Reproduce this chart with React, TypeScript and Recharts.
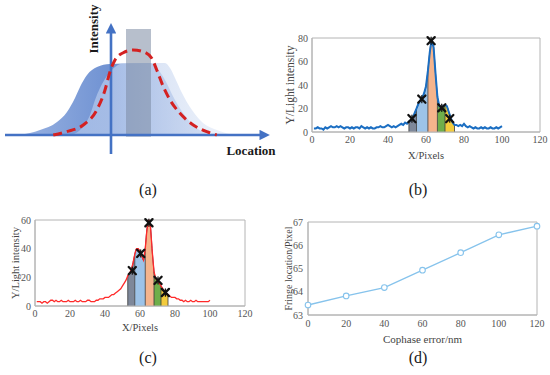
import React from 'react';
import {
  ComposedChart,
  Line,
  Area,
  Scatter,
  XAxis,
  YAxis,
  ReferenceArea,
  ReferenceLine,
} from 'recharts';

const SERIF = '"Liberation Serif", "Times New Roman", Times, serif';

// ---------- Panel (a) schematic ----------
const aRedU = [-2.31, -1.77, -1.11, -0.57, -0.24, -0.04, 0.16, 0.49, 0.89, 1.29, 1.63, 1.83, 2.09, 2.36, 2.76, 3.29, 3.83, 4.23];
const aRedV = [0, 0.04, 0.118, 0.294, 0.529, 0.745, 0.882, 0.968, 1.0, 0.98, 0.902, 0.765, 0.569, 0.412, 0.255, 0.118, 0.039, 0];
const aLeftU = [-3.64, -2.84, -2.16, -1.76, -1.44, -1.24, -0.96, -0.56, -0.04, 1.56, 1.76, 2.16, 2.56, 3.16, 3.76, 4.16];
const aLeftV = [0, 0.059, 0.153, 0.271, 0.435, 0.565, 0.706, 0.8, 0.835, 0.847, 0.812, 0.647, 0.412, 0.153, 0.024, 0];
const aRightU = [-1.56, -1.16, -0.84, -0.64, -0.44, -0.16, 0.16, 0.56, 2.16, 2.36, 2.56, 2.84, 3.24, 3.68, 4.24, 4.88];
const aRightV = [0, 0.082, 0.235, 0.412, 0.553, 0.694, 0.8, 0.847, 0.847, 0.788, 0.671, 0.494, 0.294, 0.141, 0.059, 0];
const aWindow = { u1: 0.6, u2: 1.6, v1: -0.02, v2: 1.247 };
const aAxisH = { u1: -4.24, u2: 5.96 };
const aAxisV = { v1: -0.224, v2: 1.2 };

// ---------- Panel (b) ----------
const bY = [
  3, 3, 4, 3, 3, 2, 4, 3, 4, 5,
  4, 4, 5, 4, 5, 4, 3, 4, 4, 3,
  4, 3, 4, 4, 3, 5, 4, 3, 4, 3,
  4, 3, 3, 4, 4, 5, 4, 4, 5, 6,
  5, 4, 5, 4, 5, 6, 7, 6, 8, 7,
  9, 10, 12, 16, 20, 24, 27, 29, 33, 39,
  52, 68, 79, 72, 50, 30, 22, 21, 22, 23,
  22, 17, 12, 8, 6, 6, 5, 6, 5, 7,
  5, 4, 5, 4, 3, 4, 3, 3, 4, 3,
  4, 3, 3, 4, 3, 3, 4, 3, 4, 5,
];
const bBounds = [51, 55, 61, 66, 70, 75];
const bMarkX = [52.6, 57.8, 62.7, 68.3, 72.5];
const bMarkY = [11.4, 28, 77.7, 20.6, 11.4];

// ---------- Panel (c) ----------
const cY = [
  3, 3, 3, 2, 3, 3, 2, 3, 4, 4,
  3, 4, 3, 3, 4, 3, 3, 3, 4, 3,
  3, 3, 4, 3, 3, 4, 3, 3, 3, 4,
  4, 3, 3, 3, 4, 4, 5, 5, 5, 6,
  6, 6, 7, 8, 8, 9, 10, 11, 12, 14,
  16, 18, 21, 23, 25, 30, 36, 40, 40, 38,
  35, 32, 40, 54, 60, 55, 38, 24, 19, 18,
  16, 14, 12, 10, 9, 8, 7, 6, 6, 6,
  5, 5, 4, 4, 3, 4, 3, 3, 4, 3,
  3, 4, 3, 3, 3, 3, 3, 3, 3, 4,
];
const cBounds = [53, 57, 63, 68, 72, 76];
const cMarkX = [55.6, 60.4, 65.1, 70.3, 74.5];
const cMarkY = [24.7, 36.7, 58.1, 17.9, 9.4];

// ---------- Panel (d) ----------
const dX = [0, 20, 40, 60, 80, 100, 120];
const dY = [63.43, 63.82, 64.18, 64.93, 65.68, 66.45, 66.82];

const regionColors = ['#7e889a', '#9dc3e8', '#f5b48c', '#6fae4a', '#f3cb3c'];
const pixTicks = [0, 20, 40, 60, 80, 100, 120];

const zip = (xs: number[], ys: number[]) => xs.map((x, i) => ({ x, y: ys[i] }));

function buildProfile(ys: number[], bounds: number[]) {
  return ys.map((y, i) => {
    const x = i + 1;
    const row: any = { x, y };
    for (let r = 0; r < bounds.length - 1; r++) {
      row['r' + r] = x >= bounds[r] && x <= bounds[r + 1] ? y : null;
    }
    return row;
  });
}

const XMark = (props: any) => {
  const { cx, cy } = props;
  const s = 3.6;
  return (
    <g stroke="#111" strokeWidth={2.3} strokeLinecap="round">
      <line x1={cx - s} y1={cy - s} x2={cx + s} y2={cy + s} />
      <line x1={cx - s} y1={cy + s} x2={cx + s} y2={cy - s} />
      <line x1={cx} y1={cy - s} x2={cx} y2={cy + s} strokeWidth={1.2} />
    </g>
  );
};

const SerifTick = (props: any) => {
  const { x, y, payload, textAnchor, verticalAnchor } = props;
  const dy = verticalAnchor === 'start' ? '0.72em' : verticalAnchor === 'end' ? '0' : '0.35em';
  return (
    <text x={x} y={y} dy={dy} textAnchor={textAnchor} fontFamily={SERIF} fontSize={10} fill="#555">
      {payload.value}
    </text>
  );
};

const Txt = ({ x, y, children, size = 15, bold = false, rotate = 0 }: any) => (
  <div
    style={{
      position: 'absolute',
      left: x,
      top: y,
      transform: `translate(-50%, -50%) rotate(${rotate}deg)`,
      fontFamily: SERIF,
      fontSize: size,
      fontWeight: bold ? 'bold' : 'normal',
      color: '#1a1a1a',
      whiteSpace: 'nowrap',
      lineHeight: 1,
    }}
  >
    {children}
  </div>
);

const AXIS_COLOR = '#b4b4b4';
const labelStyle = (size: number) => ({ fontSize: size, fill: '#444', fontFamily: SERIF, textAnchor: 'middle' as const });
const CHART_STYLE = { fontFamily: SERIF, overflow: 'visible' as const };

function ProfileChart({
  ys, bounds, markX, markY, yMax, yTicks, lineColor, lineWidth, outline,
  width, height, margin, yAxisWidth, xAxisHeight, xLabelOffset, yLabelOffset, tickMarginX, tickMarginY,
  xLabelSize, yLabelSize,
}: any) {
  const data = buildProfile(ys, bounds);
  const marks = zip(markX, markY);
  return (
    <ComposedChart width={width} height={height} data={data} margin={margin} style={CHART_STYLE}>
      <XAxis
        dataKey="x"
        type="number"
        domain={[0, 120]}
        ticks={pixTicks}
        interval={0}
        tickSize={0}
        tickMargin={tickMarginX}
        height={xAxisHeight}
        stroke={AXIS_COLOR}
        tick={<SerifTick />}
        label={{ value: 'X/Pixels', position: 'insideBottom', offset: xLabelOffset, style: labelStyle(xLabelSize) }}
      />
      <YAxis
        type="number"
        domain={[0, yMax]}
        ticks={yTicks}
        interval={0}
        tickSize={0}
        tickMargin={tickMarginY}
        width={yAxisWidth}
        stroke={AXIS_COLOR}
        tick={<SerifTick />}
        label={{ value: 'Y/Light intensity', angle: -90, position: 'insideLeft', offset: yLabelOffset, style: labelStyle(yLabelSize) }}
      />
      <ReferenceArea x1={0} x2={120} y1={0} y2={yMax} fill="none" stroke={AXIS_COLOR} strokeWidth={1} />
      {regionColors.map((c, r) => (
        <Area
          key={r}
          dataKey={'r' + r}
          type="monotone"
          baseValue={0}
          fill={c}
          fillOpacity={1}
          stroke={outline}
          strokeWidth={0.9}
          isAnimationActive={false}
          dot={false}
          activeDot={false}
        />
      ))}
      {bounds.map((b: number) => (
        <ReferenceLine
          key={b}
          segment={[{ x: b, y: 0 }, { x: b, y: ys[b - 1] }]}
          stroke="#3a3a3a"
          strokeWidth={0.8}
        />
      ))}
      <Line dataKey="y" type="linear" stroke={lineColor} strokeWidth={lineWidth} dot={false} activeDot={false} isAnimationActive={false} />
      <Scatter data={marks} dataKey="y" shape={<XMark />} isAnimationActive={false} />
    </ComposedChart>
  );
}

const arrowShape = (p: any) => (
  <line x1={p.x1} y1={p.y1} x2={p.x2} y2={p.y2} stroke="#4472c4" strokeWidth={2.6} markerEnd="url(#arrowA)" />
);

function SchematicChart() {
  const red = zip(aRedU, aRedV);
  const left = zip(aLeftU, aLeftV);
  const right = zip(aRightU, aRightV);
  return (
    <ComposedChart width={275} height={170} margin={{ top: 0, right: 0, bottom: 0, left: 0 }} style={{ overflow: 'visible' }}>
      <defs>
        <linearGradient id="gLeft" x1="0" y1="0" x2="1" y2="0">
          <stop offset="0%" stopColor="#86a4dc" />
          <stop offset="45%" stopColor="#5880cb" />
          <stop offset="100%" stopColor="#a3bae5" />
        </linearGradient>
        <linearGradient id="gRight" x1="0" y1="0" x2="1" y2="0">
          <stop offset="0%" stopColor="#aec4ea" />
          <stop offset="100%" stopColor="#e8eef9" />
        </linearGradient>
        <marker id="arrowA" markerWidth="4" markerHeight="4" refX="0.2" refY="2" orient="auto" markerUnits="strokeWidth">
          <path d="M0,0 L4,2 L0,4 z" fill="#4472c4" />
        </marker>
      </defs>
      <XAxis dataKey="x" type="number" domain={[-4.44, 6.56]} hide />
      <YAxis type="number" domain={[-0.412, 1.588]} hide />
      <Area data={left} dataKey="y" type="monotone" baseValue={0} fill="url(#gLeft)" fillOpacity={0.85} stroke="none" isAnimationActive={false} activeDot={false} />
      <Area data={right} dataKey="y" type="monotone" baseValue={0} fill="url(#gRight)" fillOpacity={0.7} stroke="none" isAnimationActive={false} activeDot={false} />
      <ReferenceArea x1={aWindow.u1} x2={aWindow.u2} y1={aWindow.v1} y2={aWindow.v2} fill="#7b8aa3" fillOpacity={0.55} stroke="none" />
      <ReferenceLine segment={[{ x: aAxisH.u1, y: 0 }, { x: aAxisH.u2, y: 0 }]} shape={arrowShape} ifOverflow="visible" />
      <ReferenceLine segment={[{ x: 0, y: aAxisV.v1 }, { x: 0, y: aAxisV.v2 }]} shape={arrowShape} ifOverflow="visible" />
      <Line data={red} dataKey="y" type="monotone" stroke="#d42121" strokeWidth={3} strokeDasharray="9 5" dot={false} activeDot={false} isAnimationActive={false} />
    </ComposedChart>
  );
}

function FringeChart() {
  const data = zip(dX, dY);
  return (
    <ComposedChart width={275} height={200} data={data} margin={{ top: 47, right: 13, bottom: 30, left: 0 }} style={CHART_STYLE}>
      <XAxis
        dataKey="x"
        type="number"
        domain={[0, 120]}
        ticks={pixTicks}
        interval={0}
        tickSize={0}
        tickMargin={5}
        height={30}
        stroke={AXIS_COLOR}
        tick={<SerifTick />}
        label={{ value: 'Cophase error/nm', position: 'insideBottom', offset: 2, style: labelStyle(11) }}
      />
      <YAxis
        type="number"
        domain={[63, 67]}
        ticks={[63, 64, 65, 66, 67]}
        interval={0}
        tickSize={0}
        tickMargin={5}
        width={33}
        stroke={AXIS_COLOR}
        tick={<SerifTick />}
        label={{ value: 'Fringe location/Pixel', angle: -90, position: 'insideLeft', offset: 13, style: labelStyle(10) }}
      />
      <ReferenceArea x1={0} x2={120} y1={63} y2={67} fill="none" stroke={AXIS_COLOR} strokeWidth={1} />
      <Line
        dataKey="y"
        type="linear"
        stroke="#86c3ec"
        strokeWidth={1.3}
        dot={{ r: 2.8, fill: '#fff', stroke: '#86c3ec', strokeWidth: 1.1 }}
        activeDot={false}
        isAnimationActive={false}
      />
    </ComposedChart>
  );
}

export default function App() {
  return (
    <div style={{ position: 'absolute', left: 0, top: 0, width: 550, height: 375, background: '#fff', overflow: 'visible', fontFamily: SERIF }}>
      <div style={{ position: 'absolute', left: 0, top: 0 }}>
        <SchematicChart />
      </div>
      <Txt x={93} y={29} size={13} bold rotate={-90}>Intensity</Txt>
      <Txt x={251} y={150} size={13} bold>Location</Txt>

      <div style={{ position: 'absolute', left: 275, top: 0 }}>
        <ProfileChart
          ys={bY} bounds={bBounds} markX={bMarkX} markY={bMarkY}
          yMax={80} yTicks={[0, 20, 40, 60, 80]}
          lineColor="#1b6ec2" lineWidth={2} outline="#2a2a2a"
          width={275} height={170}
          margin={{ top: 38, right: 10, bottom: 0, left: 0 }}
          yAxisWidth={37} xAxisHeight={38} xLabelOffset={11} yLabelOffset={15}
          tickMarginX={4} tickMarginY={4} xLabelSize={10.5} yLabelSize={11.5}
        />
      </div>

      <div style={{ position: 'absolute', left: 0, top: 175 }}>
        <ProfileChart
          ys={cY} bounds={cBounds} markX={cMarkX} markY={cMarkY}
          yMax={60} yTicks={[0, 20, 40, 60]}
          lineColor="#ff2a2a" lineWidth={1.3} outline="#5a2a5a"
          width={275} height={200}
          margin={{ top: 45, right: 30, bottom: 40, left: 0 }}
          yAxisWidth={35} xAxisHeight={29} xLabelOffset={4} yLabelOffset={15}
          tickMarginX={4} tickMarginY={4} xLabelSize={10.5} yLabelSize={10.5}
        />
      </div>

      <div style={{ position: 'absolute', left: 275, top: 175 }}>
        <FringeChart />
      </div>

      <Txt x={148} y={190} size={16}>(a)</Txt>
      <Txt x={418} y={190} size={16}>(b)</Txt>
      <Txt x={148} y={358} size={16}>(c)</Txt>
      <Txt x={418} y={358} size={16}>(d)</Txt>
    </div>
  );
}
